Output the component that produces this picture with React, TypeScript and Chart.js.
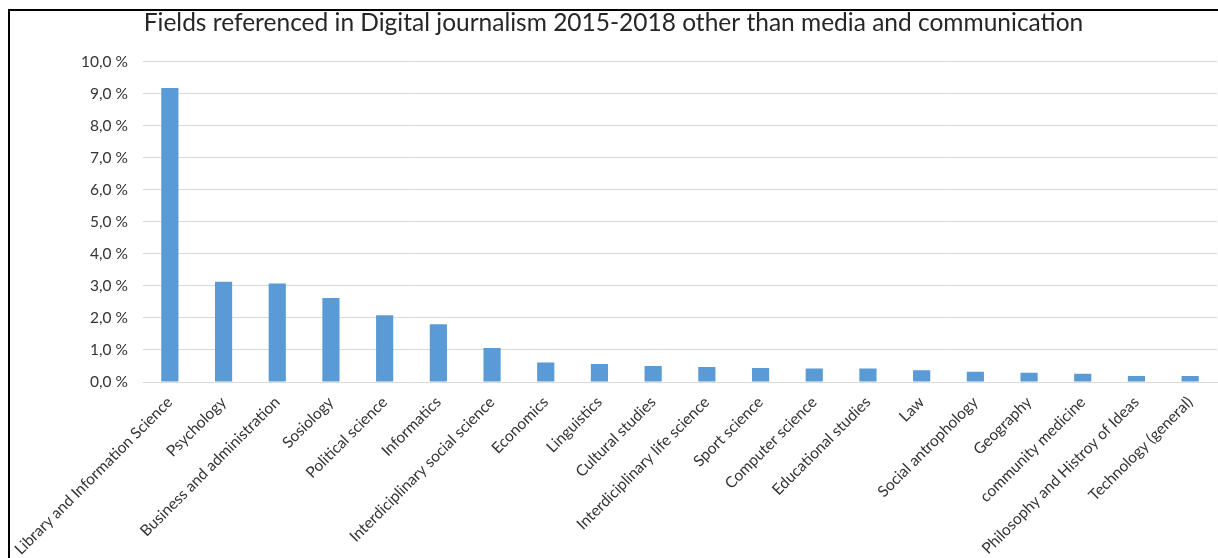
import React, { useEffect, useRef } from "react";
import { Chart, registerables } from "chart.js";

Chart.register(...registerables);

const TITLE = "Fields referenced in Digital journalism 2015-2018 other than media and communication";

const categories = [
  "Library and Information Science",
  "Psychology",
  "Business and administration",
  "Sosiology",
  "Political science",
  "Informatics",
  "Interdiciplinary social science",
  "Economics",
  "Linguistics",
  "Cultural studies",
  "Interdiciplinary life science",
  "Sport science",
  "Computer science",
  "Educational studies",
  "Law",
  "Social antrophology",
  "Geography",
  "community medicine",
  "Philosophy and Histroy of Ideas",
  "Technology (general)",
];

const shares = [
  9.17, 3.13, 3.07, 2.62, 2.08, 1.8, 1.06, 0.61, 0.56, 0.5, 0.47, 0.44, 0.42,
  0.42, 0.37, 0.32, 0.29, 0.26, 0.19, 0.19,
];

const yMin = 0;
const yMax = 10;
const yStep = 1;

const FONT = "Lato, 'Open Sans', sans-serif";

export default function App() {
  const canvasRef = useRef<HTMLCanvasElement | null>(null);

  useEffect(() => {
    if (!canvasRef.current) return;
    const chart = new Chart(canvasRef.current, {
      type: "bar",
      data: {
        labels: categories,
        datasets: [
          {
            data: shares,
            backgroundColor: "#5B9BD5",
            borderWidth: 0,
            barPercentage: 0.32,
            categoryPercentage: 1,
          },
        ],
      },
      options: {
        animation: false,
        responsive: false,
        maintainAspectRatio: false,
        layout: { padding: { left: 0, right: 1, top: 0, bottom: 0 } },
        plugins: {
          legend: { display: false },
          tooltip: { enabled: false },
          title: {
            display: true,
            text: TITLE,
            color: "#262626",
            font: { family: FONT, size: 24.5, weight: "normal", lineHeight: 1 },
            padding: { top: 0, bottom: 26 },
          },
        },
        scales: {
          x: {
            grid: { display: false, drawTicks: false },
            border: { display: true, color: "#d9d9d9", width: 1 },
            ticks: {
              autoSkip: false,
              maxRotation: 45,
              minRotation: 45,
              padding: 11,
              labelOffset: 0,
              color: "#333333",
              font: { family: FONT, size: 15.5 },
            },
            afterFit: (scale: any) => {
              scale.height = 176;
              scale.paddingLeft = 0;
              scale.paddingRight = 0;
            },
          },
          y: {
            min: yMin,
            max: yMax,
            grid: { color: "#d9d9d9", lineWidth: 1, drawTicks: false },
            border: { display: false },
            ticks: {
              stepSize: yStep,
              padding: 15,
              color: "#333333",
              font: { family: FONT, size: 15.5 },
              callback: (v: any) => Number(v).toFixed(1).replace(".", ",") + " %",
            },
            afterFit: (scale: any) => {
              scale.width = 133;
              scale.paddingTop = 0;
              scale.paddingBottom = 0;
            },
          },
        },
      },
    });
    return () => chart.destroy();
  }, []);

  return (
    <div
      style={{
        position: "absolute",
        left: 8,
        top: 9,
        width: 1210,
        height: 549,
        borderLeft: "2px solid #000",
        borderTop: "2px solid #000",
        boxSizing: "border-box",
        overflow: "hidden",
        background: "#fff",
      }}
    >
      <canvas ref={canvasRef} width={1208} height={547} style={{ display: "block" }} />
    </div>
  );
}
